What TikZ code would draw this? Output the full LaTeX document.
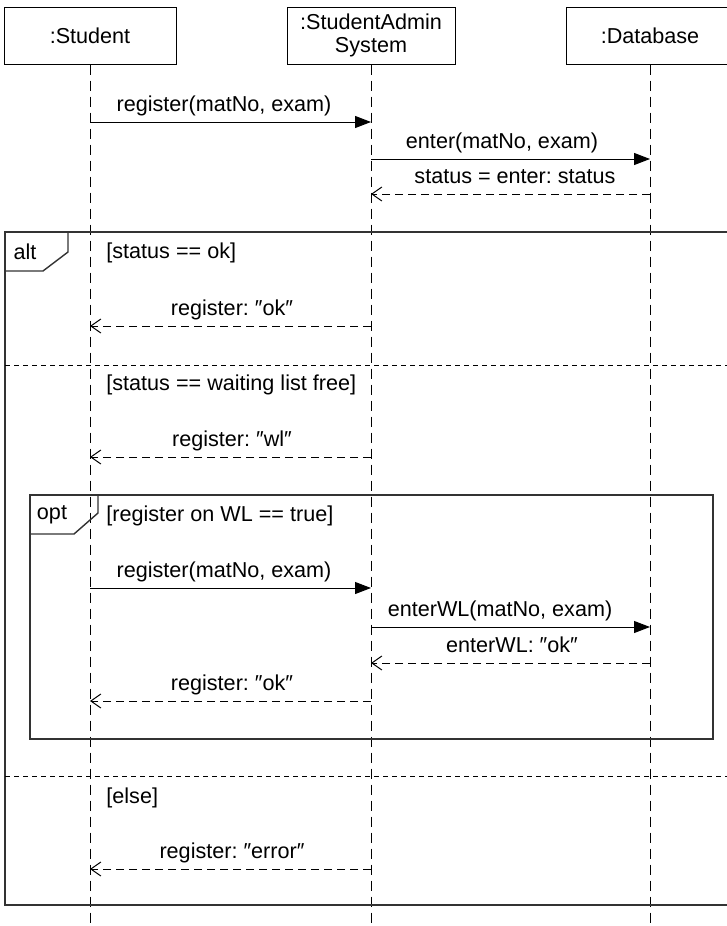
\documentclass[tikz,border=0pt]{standalone}
\usepackage{fontspec}
\setmainfont{Liberation Sans}
\usetikzlibrary{arrows.meta}
\frenchspacing
\begin{document}
\begin{tikzpicture}[x=0.5pt,y=-0.5pt,
  every node/.style={font=\fontsize{10.8}{13}\selectfont, inner sep=0pt},
  head/.style={draw, line width=0.5pt, minimum height=28.5pt, align=center, inner sep=0pt},
  lifeline/.style={line width=0.5pt, dash pattern=on 5pt off 3pt},
  callmsg/.style={line width=0.5pt, -{Triangle[length=8pt,width=6pt]}},
  retmsg/.style={line width=0.5pt, dash pattern=on 4pt off 2.5pt, -{Straight Barb[length=5pt,width=7pt]}},
  frameline/.style={line width=0.7pt, draw=black!80},
  sepline/.style={line width=0.5pt, dash pattern=on 2.5pt off 2pt},
  lbl/.style={anchor=base},
  guard/.style={anchor=west}]
\useasboundingbox (0,0) rectangle (727,926);

% heads
\node[head, minimum width=86pt] (stu) at (90,35.5) {:Student};
\node[head, minimum width=84pt] (sas) at (371,35.5) {:StudentAdmin\\[-1.5pt]System};
\node[head, minimum width=84pt] (db) at (650,35.5) {:Database};

% lifeline ends
\coordinate (stuE) at (90,926);
\coordinate (sasE) at (371,926);
\coordinate (dbE) at (650,926);
\draw[lifeline] (stu.south -| stuE) -- (stuE);
\draw[lifeline] (sas.south -| sasE) -- (sasE);
\draw[lifeline] (db.south -| dbE) -- (dbE);

% alt frame
\draw[frameline] (740,232) -- (5,232) -- (5,905) -- (740,905);
\draw[frameline] (5,232) -- (68,232) -- (68,252) -- (43,271) -- (5,271);
\node (altl) at (25,252) {alt};
\coordinate (sep1a) at (5,365);
\coordinate (sep1b) at (727,365);
\coordinate (sep2a) at (5,776);
\coordinate (sep2b) at (727,776);
\draw[sepline] (sep1a) -- (sep1b);
\draw[sepline] (sep2a) -- (sep2b);

% opt frame
\draw[frameline] (30,495) rectangle (713,739);
\draw[frameline] (30,495) -- (98,495) -- (98,513) -- (74,534) -- (30,534);
\node (optl) at (52,515) {opt};

% guards
\node[guard] (g1) at (106,253) {[status == ok]};
\node[guard] (g2) at (106,385) {[status == waiting list free]};
\node[guard] (g3) at (106,516) {[register on WL == true]};
\node[guard] (g4) at (106,798) {[else]};

% message points
\coordinate (m1a) at (90,122);  \coordinate (m1b) at (371,122);
\coordinate (m2a) at (371,159); \coordinate (m2b) at (650,159);
\coordinate (m3a) at (650,194); \coordinate (m3b) at (371,194);
\coordinate (m4a) at (371,326); \coordinate (m4b) at (90,326);
\coordinate (m5a) at (371,457); \coordinate (m5b) at (90,457);
\coordinate (m6a) at (90,588);  \coordinate (m6b) at (371,588);
\coordinate (m7a) at (371,627); \coordinate (m7b) at (650,627);
\coordinate (m8a) at (650,663); \coordinate (m8b) at (371,663);
\coordinate (m9a) at (371,701); \coordinate (m9b) at (90,701);
\coordinate (m10a) at (371,869); \coordinate (m10b) at (90,869);

\draw[callmsg] (m1a) -- (m1b);
\draw[callmsg] (m2a) -- (m2b);
\draw[retmsg] (m3a) -- (m3b);
\draw[retmsg] (m4a) -- (m4b);
\draw[retmsg] (m5a) -- (m5b);
\draw[callmsg] (m6a) -- (m6b);
\draw[callmsg] (m7a) -- (m7b);
\draw[retmsg] (m8a) -- (m8b);
\draw[retmsg] (m9a) -- (m9b);
\draw[retmsg] (m10a) -- (m10b);

% labels
\node[lbl] (l1) at (224,111) {register(matNo, exam)};
\node[lbl] (l2) at (502,148) {enter(matNo, exam)};
\node[lbl] (l3) at (515,183) {status = enter: status};
\node[lbl] (l4) at (232,315) {register: ″ok″};
\node[lbl] (l5) at (232,446) {register: ″wl″};
\node[lbl] (l6) at (224,577) {register(matNo, exam)};
\node[lbl] (l7) at (500,616) {enterWL(matNo, exam)};
\node[lbl] (l8) at (512,652) {enterWL: ″ok″};
\node[lbl] (l9) at (232,690) {register: ″ok″};
\node[lbl] (l10) at (232,858) {register: ″error″};
\end{tikzpicture}
\end{document}
